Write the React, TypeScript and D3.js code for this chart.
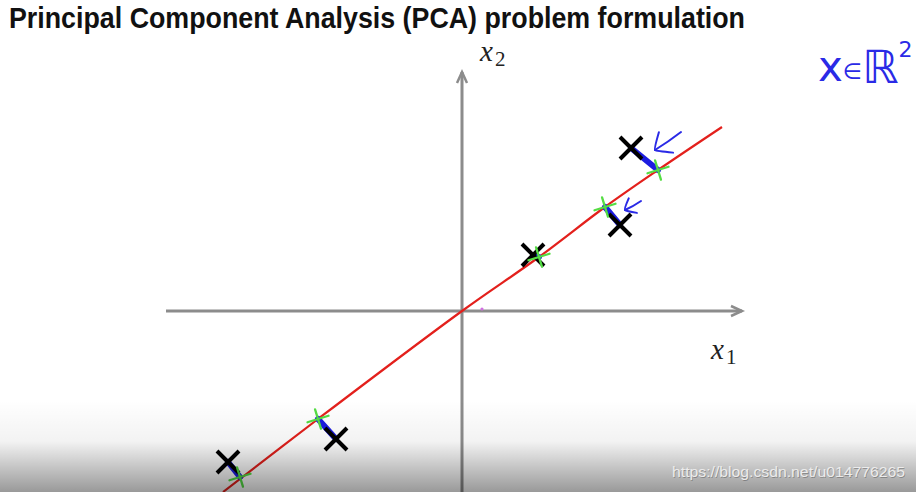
import React, { useRef, useEffect } from 'react';
import * as d3 from 'd3';

type Pt = [number, number];

// data in axis units (1 unit = 50px)
const samples: Pt[] = [
  [3.38, 3.26],
  [3.16, 1.72],
  [1.42, 1.12],
  [-2.52, -2.56],
  [-4.68, -3.02],
];
const projections: Pt[] = [
  [3.92, 2.82],
  [2.86, 2.08],
  [1.54, 1.08],
  [-2.88, -2.16],
  [-4.44, -3.32],
];
const pcaLine: Pt[] = [
  [-4.78, -3.62],
  [-2.88, -2.16],
  [0, 0],
  [1.54, 1.08],
  [2.86, 2.08],
  [3.92, 2.82],
  [5.2, 3.68],
];
// hand-drawn arrows pointing at the projection error (from -> to)
const arrows: [Pt, Pt][] = [
  [[4.38, 3.58], [3.86, 3.22]],
  [[3.58, 2.2], [3.26, 2.02]],
];
const xAxisExtent = [-5.92, 5.6];
const yAxisExtent = [-3.8, 4.78];

const title = 'Principal Component Analysis (PCA) problem formulation';
const watermark = 'https://blog.csdn.net/u014776265';

const PcaSlide = () => {
  const svgRef = useRef<SVGSVGElement>(null);
  const width = 916;
  const height = 492;

  useEffect(() => {
    const svg = d3.select(svgRef.current);
    svg.selectAll('*').remove();

    const x = d3.scaleLinear().domain([-6, 6]).range([162, 762]);
    const y = d3.scaleLinear().domain([-4, 4]).range([511, 111]);

    svg.append('rect').attr('width', width).attr('height', height).attr('fill', '#fff');

    // title
    svg.append('text')
      .attr('x', 9)
      .attr('y', 28)
      .attr('font-family', '"Liberation Sans", Arial, sans-serif')
      .attr('font-weight', 700)
      .attr('font-size', 30)
      .attr('textLength', 736)
      .attr('lengthAdjust', 'spacingAndGlyphs')
      .attr('fill', '#111')
      .text(title);

    // axes
    const axisColor = '#8c8c8c';
    const ax = svg.append('g').attr('stroke', axisColor).attr('stroke-width', 3).attr('fill', 'none');
    ax.append('line')
      .attr('x1', x(xAxisExtent[0])).attr('x2', x(xAxisExtent[1]))
      .attr('y1', y(0)).attr('y2', y(0));
    ax.append('path')
      .attr('stroke-width', 2.5)
      .attr('d', `M${x(xAxisExtent[1]) - 11},${y(0) - 5}L${x(xAxisExtent[1])},${y(0)}L${x(xAxisExtent[1]) - 11},${y(0) + 5}`);
    ax.append('line')
      .attr('x1', x(0)).attr('x2', x(0))
      .attr('y1', y(yAxisExtent[0])).attr('y2', y(yAxisExtent[1]));
    ax.append('path')
      .attr('stroke-width', 2.5)
      .attr('d', `M${x(0) - 5},${y(yAxisExtent[1]) + 11}L${x(0)},${y(yAxisExtent[1])}L${x(0) + 5},${y(yAxisExtent[1]) + 11}`);

    // axis labels
    const label = (px: number, py: number, sub: string) => {
      const t = svg.append('text').attr('x', px).attr('y', py).attr('fill', '#222')
        .attr('font-family', '"Liberation Serif", "DejaVu Serif", serif');
      t.append('tspan').attr('font-style', 'italic').attr('font-size', 29).text('x');
      t.append('tspan').attr('font-size', 21).attr('dx', 2).attr('dy', 5).text(sub);
    };
    label(x(0.36), y(5.0), '2');
    label(x(4.98), y(-0.96), '1');

    // tiny magenta speck near origin
    svg.append('circle').attr('cx', x(0.4)).attr('cy', y(0.04)).attr('r', 1.6).attr('fill', '#d070e0');

    // red principal direction
    const line = d3.line<Pt>().x(d => x(d[0])).y(d => y(d[1])).curve(d3.curveCatmullRom);
    svg.append('path')
      .datum(pcaLine)
      .attr('d', line)
      .attr('fill', 'none')
      .attr('stroke', '#e3201c')
      .attr('stroke-width', 2.2);

    // projection errors
    svg.append('g')
      .selectAll('line')
      .data(samples)
      .join('line')
      .attr('x1', d => x(d[0]))
      .attr('y1', d => y(d[1]))
      .attr('x2', (_, i) => x(projections[i][0]))
      .attr('y2', (_, i) => y(projections[i][1]))
      .attr('stroke', '#1c1ce0')
      .attr('stroke-width', 6)
      .attr('stroke-linecap', 'round');

    // black X markers
    const s = 11;
    const xm = svg.append('g').attr('stroke', '#000').attr('stroke-width', 4).attr('stroke-linecap', 'butt');
    samples.forEach(d => {
      const cx = x(d[0]);
      const cy = y(d[1]);
      xm.append('path').attr('d', `M${cx - s},${cy - s}L${cx + s},${cy + s}M${cx - s},${cy + s}L${cx + s},${cy - s}`);
    });

    // green crosses at projections
    const gm = svg.append('g').attr('stroke', '#55dd44').attr('stroke-width', 2.3).attr('stroke-linecap', 'round');
    projections.forEach(d => {
      const cx = x(d[0]);
      const cy = y(d[1]);
      const a = -0.3;
      const r1 = 11;
      const r2 = 10;
      const c = Math.cos(a);
      const sn = Math.sin(a);
      gm.append('path').attr('d',
        `M${cx - r1 * c},${cy - r1 * sn}L${cx + r1 * c},${cy + r1 * sn}` +
        `M${cx + r2 * sn},${cy - r2 * c}L${cx - r2 * sn},${cy + r2 * c}`);
    });

    // blue hand-drawn arrows
    const bl = svg.append('g').attr('stroke', '#2a2ae6').attr('stroke-width', 2).attr('fill', 'none')
      .attr('stroke-linecap', 'round');
    arrows.forEach(([f, t]) => {
      const x0 = x(f[0]), y0 = y(f[1]), x1 = x(t[0]), y1 = y(t[1]);
      const ang = Math.atan2(y0 - y1, x0 - x1);
      const hl = Math.hypot(x0 - x1, y0 - y1) * 0.45 + 4;
      const h1 = [x1 + hl * Math.cos(ang - 0.75), y1 + hl * Math.sin(ang - 0.75)];
      const h2 = [x1 + hl * Math.cos(ang + 0.75), y1 + hl * Math.sin(ang + 0.75)];
      bl.append('path').attr('d', `M${x0},${y0}Q${(x0 + x1) / 2},${(y0 + y1) / 2 + 1} ${x1},${y1}`);
      bl.append('path').attr('d', `M${h1[0]},${h1[1]}Q${x1 - 1},${y1 - 1} ${x1},${y1}Q${x1 + 1},${y1 + 1} ${h2[0]},${h2[1]}`);
    });

    // handwritten note
    const note = svg.append('text').attr('x', 818).attr('y', 81).attr('fill', '#2a2ae6')
      .attr('font-family', '"DejaVu Sans", sans-serif');
    note.append('tspan').attr('font-size', 42).text('x');
    note.append('tspan').attr('font-size', 22).attr('dy', -2).text('∈');
    note.append('tspan').attr('font-size', 46).attr('dy', 4).text('ℝ');
    note.append('tspan').attr('font-size', 22).attr('dy', -26).text('2');

    // video bottom shade
    const defs = svg.append('defs');
    const grad = defs.append('linearGradient').attr('id', 'shade').attr('x1', 0).attr('x2', 0).attr('y1', 0).attr('y2', 1);
    grad.append('stop').attr('offset', '0%').attr('stop-color', '#000').attr('stop-opacity', 0);
    grad.append('stop').attr('offset', '45%').attr('stop-color', '#000').attr('stop-opacity', 0.05);
    grad.append('stop').attr('offset', '100%').attr('stop-color', '#000').attr('stop-opacity', 0.4);
    svg.append('rect').attr('x', 0).attr('y', 400).attr('width', width).attr('height', 92).attr('fill', 'url(#shade)');

    // watermark
    const wm = (dx: number, dy: number, fill: string) =>
      svg.append('text')
        .attr('x', 672 + dx).attr('y', 477 + dy)
        .attr('font-family', '"Liberation Sans", Arial, sans-serif')
        .attr('font-size', 15)
        .attr('textLength', 233)
        .attr('lengthAdjust', 'spacingAndGlyphs')
        .attr('fill', fill)
        .text(watermark);
    wm(0.8, 0.8, 'rgba(0,0,0,0.25)');
    wm(0, 0, '#ececec');
  }, []);

  return <svg ref={svgRef} width={width} height={height} style={{ position: 'fixed', left: 0, top: 0, display: 'block' }}></svg>;
};

export default function App() {
  return <PcaSlide />;
}
